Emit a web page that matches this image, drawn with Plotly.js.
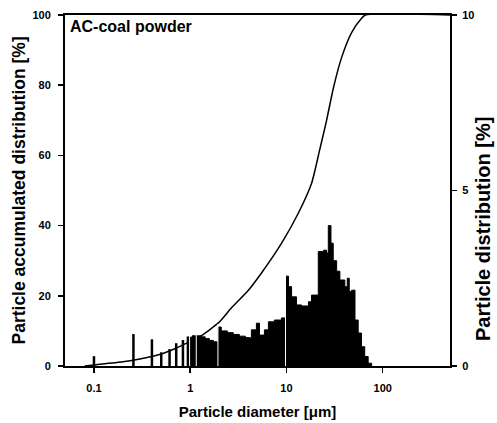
<!DOCTYPE html>
<html>
<head>
<meta charset="utf-8">
<script src="https://cdn.plot.ly/plotly-3.0.1.min.js"></script>
<style>html,body{margin:0;padding:0;background:#fff;}#chart{width:497px;height:423px;}</style>
</head>
<body>
<div id="chart"></div>
<script>
// Cumulative (accumulated) distribution, left axis [%]
var cumX = [0.08, 0.1, 0.2, 0.3, 0.5, 0.7, 1.0, 1.3, 2.0, 2.67, 4.0, 5.5, 8.9, 13.3, 18.2, 22.1, 26.1, 30.9, 37.5, 47.5, 60, 66, 500];
var cumY = [0, 0.3, 1.2, 2.0, 3.4, 5.0, 7.0, 8.6, 12.5, 16.5, 21.5, 26.5, 35, 43.6, 52, 61.5, 70, 79.5, 88, 95, 99, 100, 100];

// Particle distribution bins (left edge of each bin), right axis [%]
var binX = [0.953, 1.05, 1.18, 1.30, 1.43, 1.58, 1.74, 1.91, 1.96, 2.10,
            2.43, 2.80, 3.24, 3.74, 4.12, 4.32, 4.87, 5.24, 5.90, 6.49,
            7.49, 8.87, 9.77, 10.5, 11.3, 12.7, 14.3, 16.9, 18.2, 21.4,
            24.3, 26.1, 27.2, 29.0, 30.6, 33.2, 35.9, 40.4, 42.8, 44.9,
            47.5, 51.5, 55.6, 60.1, 65.0, 70.6, 76.7];
var binY = [0.82, 0.86, 0.86, 0.83, 0.78, 0.73, 0.69, 0.65, 1.11, 1.00,
            0.95, 0.90, 0.85, 0.81, 0.80, 1.03, 1.22, 0.88, 1.03, 1.26,
            1.31, 1.37, 2.56, 2.26, 1.97, 1.74, 1.71, 1.83, 2.02, 3.26,
            3.30, 3.22, 4.0, 3.5, 3.0, 2.7, 2.45, 2.26, 2.5, 2.12,
            2.16, 1.31, 0.94, 0.55, 0.27, 0.08, 0];

// Isolated fine-particle bars below 1 µm
var spikeX = [0.1, 0.257, 0.40, 0.50, 0.61, 0.715, 0.84, 0.946];
var spikeY = [0.28, 0.91, 0.76, 0.39, 0.48, 0.65, 0.74, 0.84];

// White separations inside the filled histogram
var gapX = [0.985, 1.155, 1.94, 9.77];
var gapTop = [0.9, 0.9, 1.2, 2.6];

var tickX = [0.1, 1, 10, 100];
var tickXText = ['0.1', '1', '10', '100'];

function segs(xs, ys) {
  var x = [], y = [];
  for (var i = 0; i < xs.length; i++) { x.push(xs[i], xs[i], null); y.push(0, ys[i], null); }
  return {x: x, y: y};
}
var sp = segs(spikeX, spikeY);
var gp = segs(gapX, gapTop);

var fontF = 'Liberation Sans, Arial, sans-serif';

var traces = [
  {x: binX, y: binY, type: 'scatter', mode: 'lines', line: {shape: 'hv', color: '#000', width: 1},
   fill: 'tozeroy', fillcolor: '#000', yaxis: 'y2', hoverinfo: 'skip', showlegend: false},
  {x: sp.x, y: sp.y, type: 'scatter', mode: 'lines', line: {color: '#000', width: 2.5},
   yaxis: 'y2', showlegend: false, connectgaps: false},
  {x: gp.x, y: gp.y, type: 'scatter', mode: 'lines', line: {color: '#fff', width: 1},
   yaxis: 'y2', showlegend: false, connectgaps: false},
  {x: cumX, y: cumY, type: 'scatter', mode: 'lines', line: {color: '#000', width: 1.5, shape: 'spline', smoothing: 0.6},
   yaxis: 'y', showlegend: false}
];

var layout = {
  width: 497, height: 423,
  margin: {l: 65, r: 47, t: 15, b: 57, pad: 0},
  paper_bgcolor: '#fff', plot_bgcolor: '#fff',
  showlegend: false,
  font: {family: fontF, color: '#000'},
  xaxis: {
    type: 'log', range: [Math.log10(0.05), Math.log10(500)],
    tickvals: tickX, ticktext: tickXText,
    ticks: 'outside', ticklen: 5, tickwidth: 1.5, tickcolor: '#000',
    showline: true, linecolor: '#000', linewidth: 2, mirror: true,
    showgrid: false, zeroline: false,
    ticklabelstandoff: 6,
    tickfont: {family: fontF, size: 11, weight: 'bold', color: '#000'},
    title: {text: 'Particle diameter [μm]', standoff: 13,
            font: {family: fontF, size: 15, weight: 'bold', color: '#000'}},
    automargin: false
  },
  yaxis: {
    range: [0, 100], tickvals: [0, 20, 40, 60, 80, 100],
    ticks: 'outside', ticklen: 5, tickwidth: 1.5, tickcolor: '#000',
    showline: true, linecolor: '#000', linewidth: 2,
    showgrid: false, zeroline: false,
    ticklabelstandoff: 5,
    tickfont: {family: fontF, size: 11, weight: 'bold', color: '#000'},
    automargin: false
  },
  yaxis2: {
    overlaying: 'y', side: 'right', anchor: 'x',
    range: [0, 10], tickvals: [0, 5, 10],
    ticks: 'outside', ticklen: 5, tickwidth: 1.5, tickcolor: '#000',
    showline: true, linecolor: '#000', linewidth: 2,
    showgrid: false, zeroline: false,
    ticklabelstandoff: 3,
    tickfont: {family: fontF, size: 11, weight: 'bold', color: '#000'},
    automargin: false
  },
  annotations: [
    {text: 'AC-coal powder', xref: 'paper', yref: 'paper', x: 0.008, y: 0.997,
     xanchor: 'left', yanchor: 'top', showarrow: false,
     font: {family: fontF, size: 16, weight: 'bold', color: '#000'}},
    {text: 'Particle accumulated distribution [%]', xref: 'paper', yref: 'paper',
     x: -0.122, y: 0.5, xanchor: 'center', yanchor: 'middle', textangle: -90, showarrow: false,
     font: {family: fontF, size: 17.5, weight: 'bold', color: '#000'}},
    {text: 'Particle distribution [%]', xref: 'paper', yref: 'paper',
     x: 1.0855, y: 0.39, xanchor: 'center', yanchor: 'middle', textangle: -90, showarrow: false,
     font: {family: fontF, size: 20, weight: 'bold', color: '#000'}}
  ]
};

Plotly.newPlot('chart', traces, layout, {staticPlot: true, displayModeBar: false});
</script>
</body>
</html>
